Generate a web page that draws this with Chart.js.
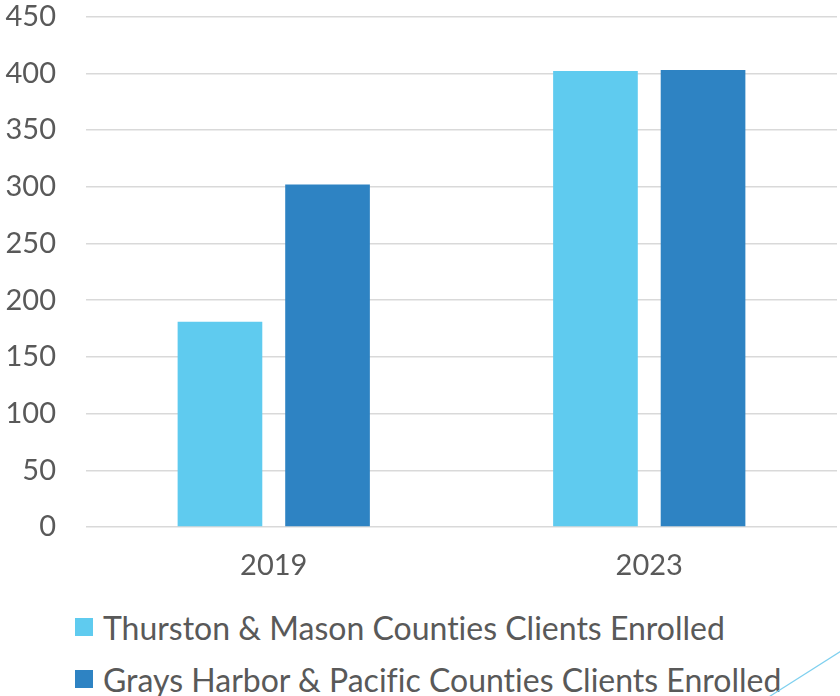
<!DOCTYPE html>
<html>
<head>
<meta charset="utf-8">
<script src="https://cdn.jsdelivr.net/npm/chart.js@4"></script>
<style>
  html,body{margin:0;padding:0;background:#fff;}
  #wrap{position:relative;width:840px;height:696px;overflow:hidden;}
  #c{position:absolute;left:0;top:0;}
  #legend{position:absolute;left:75px;top:601px;font-family:Lato,"Liberation Sans",sans-serif;font-size:32px;color:#595959;font-variant-ligatures:none;}
  .item{display:flex;align-items:center;height:52px;white-space:nowrap;}
  .box{width:18px;height:18px;margin-right:10px;flex:none;}
  #deco{position:absolute;left:0;top:0;}
</style>
</head>
<body>
<div id="wrap">
  <canvas id="c" width="840" height="600"></canvas>
  <div id="legend"></div>
  <svg id="deco" width="840" height="696"><line x1="764" y1="700" x2="846" y2="648" stroke="#7fd0ef" stroke-width="1.2"/></svg>
</div>
<script>
const categories = ["2019", "2023"];
const seriesNames = ["Thurston & Mason Counties Clients Enrolled", "Grays Harbor & Pacific Counties Clients Enrolled"];
const thurstonMason = [181, 402];
const graysPacific = [302, 403];
const seriesColors = ["#5FCBEF", "#2E83C3"];
const yTicks = [0, 50, 100, 150, 200, 250, 300, 350, 400, 450];

const FONT = 'Lato, "Liberation Sans", sans-serif';
const datasets = [thurstonMason, graysPacific].map((vals, i) => ({
  label: seriesNames[i],
  data: vals,
  backgroundColor: seriesColors[i],
  borderWidth: 0,
  categoryPercentage: 0.573,
  barPercentage: 0.787
}));

new Chart(document.getElementById('c'), {
  type: 'bar',
  data: { labels: categories, datasets },
  options: {
    responsive: false,
    animation: false,
    events: [],
    layout: { padding: { top: 0, right: 3, left: 0, bottom: 0 } },
    plugins: { legend: { display: false }, tooltip: { enabled: false } },
    scales: {
      x: {
        grid: { display: false },
        border: { display: false },
        ticks: { color: '#595959', font: { family: FONT, size: 29 }, padding: 13 },
        afterFit: s => { s.height = 73; }
      },
      y: {
        min: 0, max: 450,
        afterBuildTicks: s => { s.ticks = yTicks.map(v => ({ value: v })); },
        grid: { color: '#D9D9D9', lineWidth: 1.5, drawTicks: true, tickLength: 30, tickColor: 'rgba(0,0,0,0)' },
        border: { display: false },
        ticks: { color: '#595959', font: { family: FONT, size: 29, lineHeight: 1.15 }, padding: 0 },
        afterFit: s => { s.width = 86; }
      }
    }
  }
});

const lg = document.getElementById('legend');
seriesNames.forEach((n, i) => {
  const d = document.createElement('div'); d.className = 'item';
  const b = document.createElement('span'); b.className = 'box'; b.style.background = seriesColors[i];
  const t = document.createElement('span'); t.textContent = n;
  d.appendChild(b); d.appendChild(t); lg.appendChild(d);
});
</script>
</body>
</html>
